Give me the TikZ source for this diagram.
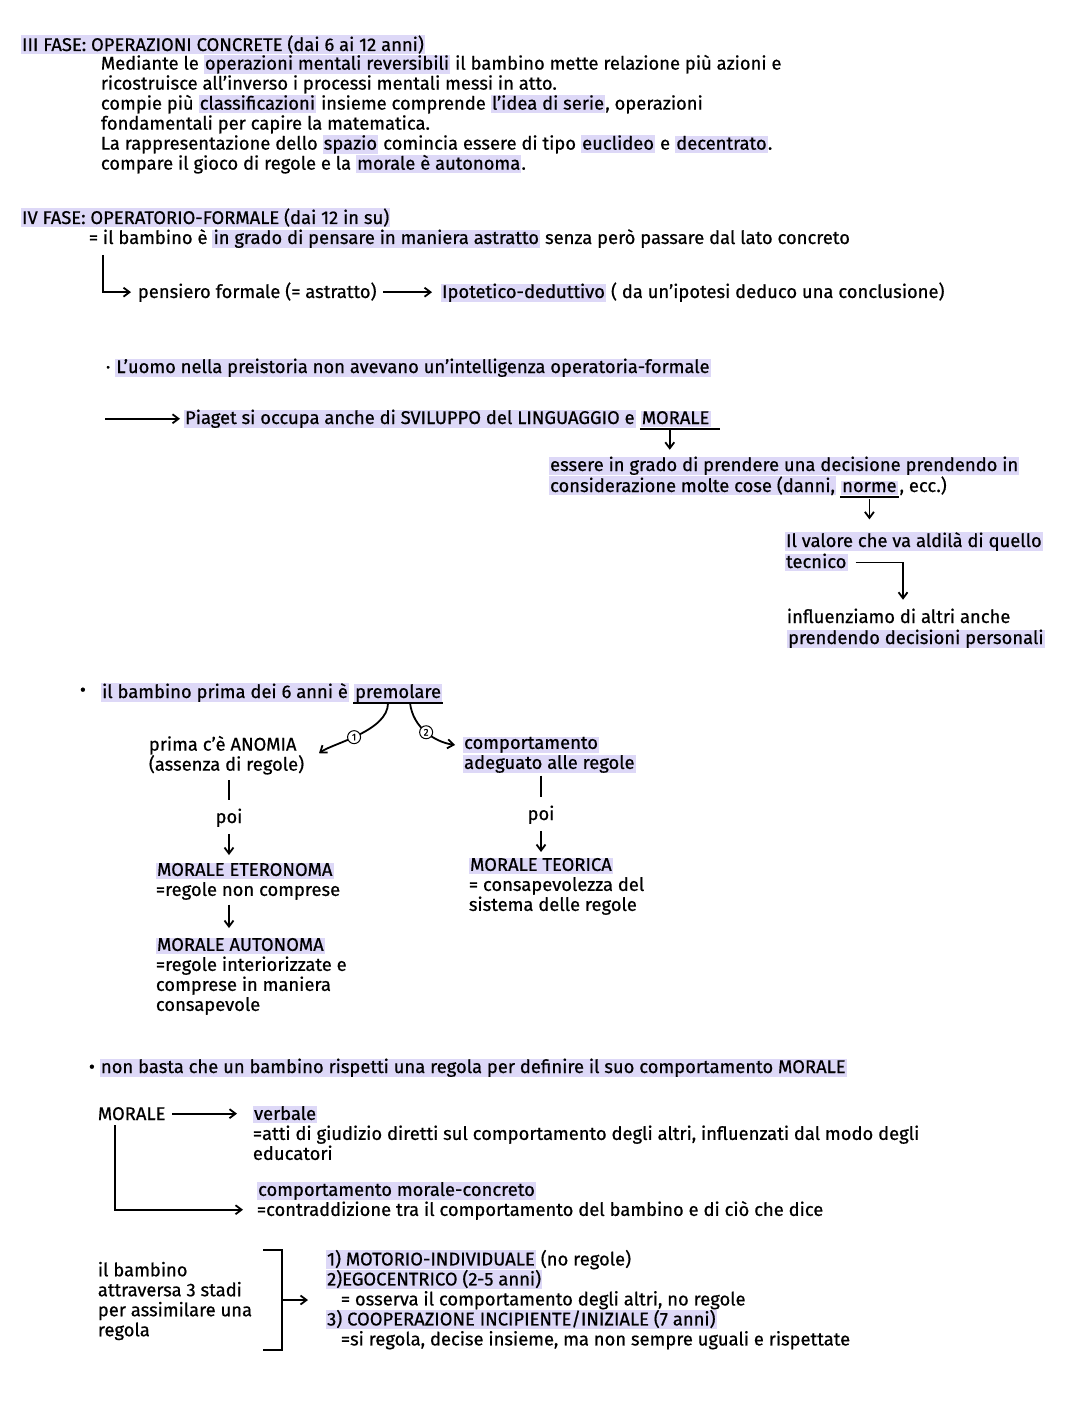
\documentclass[tikz,border=0pt]{standalone}
\usepackage{fontspec}
\setmainfont{Fira Sans}[FakeBold=0.6]
\usetikzlibrary{arrows.meta,calc,positioning}
\definecolor{hlcol}{HTML}{DDD8F7}
\newcommand\hl[1]{{\setlength{\fboxsep}{0pt}\colorbox{hlcol}{\kern0.6pt\rule[-1.6pt]{0pt}{7pt}#1\kern0.6pt}}}
\newcommand\notefont{\fontsize{9.2}{10}\selectfont}
\newcommand\topstrut{\rule{0pt}{7pt}}
\begin{document}
\begin{tikzpicture}[%
    x=0.5pt, y=-0.5pt, line width=0.9pt,
    >={Straight Barb[length=3pt,width=4.5pt]},
    txt/.style={anchor=base west, inner sep=0pt, font=\notefont},
    para/.style={anchor=north west, inner sep=0pt, align=left, font=\notefont},
    num/.style={circle, draw, fill=white, inner sep=0pt, minimum size=6.5pt,
      line width=0.5pt, font=\fontsize{4.8}{5}\selectfont}]
  \fill[white] (0,0) rectangle (1080,1417);
  \useasboundingbox (0,0) rectangle (1080,1417);

  % III fase
  \node[txt] (f3) at (20,51) {\hl{III FASE: OPERAZIONI CONCRETE (dai 6 ai 12 anni)}};
  \node[para] (f3txt) at (100,54) {\topstrut Mediante le \hl{operazioni mentali reversibili} il bambino mette relazione più azioni e\\
    ricostruisce all'inverso i processi mentali messi in atto.\\
    compie più \hl{classificazioni} insieme comprende \hl{l'idea di serie}, operazioni\\
    fondamentali per capire la matematica.\\
    La rappresentazione dello \hl{spazio} comincia essere di tipo \hl{euclideo} e \hl{decentrato}.\\
    compare il gioco di regole e la \hl{morale è autonoma}.};

  % IV fase
  \node[txt] (f4) at (20,224) {\hl{IV FASE: OPERATORIO-FORMALE (dai 12 in su)}};
  \node[txt] (f4eq) at (88,244) {= il bambino è \hl{in grado di pensare in maniera astratto} senza però passare dal lato concreto};
  \node[txt] (pens) at (137,298) {pensiero formale (= astratto)};
  \node[txt] (ipot) at (440,298) {\hl{Ipotetico-deduttivo} ( da un'ipotesi deduco una conclusione)};
  \draw[->, shorten >=3pt] ($(f4eq.base west)+(15,11)$) |- (pens.west);
  \draw[->, shorten <=3pt, shorten >=4pt] (pens.east) -- (ipot.west);

  % preistoria e Piaget
  \node[txt] (uomo) at (105,373) {· \hl{L'uomo nella preistoria non avevano un'intelligenza operatoria-formale}};
  \coordinate (pgo) at (105,424);
  \node[txt] (piag) at (183,424) {\hl{Piaget si occupa anche di SVILUPPO del LINGUAGGIO e}};
  \node[txt] (morP) at ($(piag.base east)+(3,0)$) {\hl{MORALE}};
  \draw ($(morP.base west)+(0,5)$) -- ($(morP.base east)+(8,5)$);
  \draw[->, shorten >=1.5pt] (piag.west -| pgo) -- (piag.west);

  \node[txt] (ess1) at (548,471) {\hl{essere in grado di prendere una decisione prendendo in}};
  \node[txt] (ess2) at (548,492) {\hl{considerazione molte cose (danni,}};
  \node[txt] (norme) at ($(ess2.base east)+(3,0)$) {\hl{norme}};
  \node[txt] (ess3) at (norme.base east) {, ecc.)};
  \draw ($(norme.base west)+(0,5)$) -- ($(norme.base east)+(0,5)$);
  \coordinate (mU) at ($(morP.base west)+(30,5)$);
  \draw[->, shorten >=3pt] (mU) -- (mU |- ess1.north);

  \node[txt] (val1) at (784,547) {\hl{Il valore che va aldilà di quello}};
  \node[txt] (val2) at (784,568) {\hl{tecnico}};
  \coordinate (nU) at ($(norme.base)+(0,5)$);
  \draw[->, shorten <=1pt, shorten >=6pt] (nU) -- (nU |- val1.north);

  \node[txt] (infl1) at (786,623) {influenziamo di altri anche};
  \node[txt] (infl2) at (786,644) {\hl{prendendo decisioni personali}};
  \coordinate (iT) at ($(infl1.north west)+(117,-8)$);
  \draw[->, shorten <=3.5pt] (val2.east) -| (iT);

  % premorale
  \node[txt] (bul) at (79,696) {•};
  \node[txt] (prima) at (100,698) {\hl{il bambino prima dei 6 anni è}};
  \node[txt] (prem) at ($(prima.base east)+(3,0)$) {\hl{premolare}};
  \draw ($(prem.base west)+(0,5)$) -- ($(prem.base east)+(0,5)$);

  \node[para] (anom) at (148,735) {\topstrut prima c'è ANOMIA\\(assenza di regole)};
  \node[para] (comp) at (462,734) {\topstrut\hl{comportamento}\\\hl{adeguato alle regole}};
  \coordinate (c1) at ($(prem.base west)+(35,5)$);
  \coordinate (c2) at ($(prem.base west)+(57,5)$);
  \draw[->] (c1) .. controls +(0,28) and +(14,-10) .. ($(anom.east)+(14,-2)$)
    node[num, pos=0.55] {1};
  \draw[->] (c2) .. controls +(3,25) and +(-20,-3) .. ($(comp.north west)+(-7,11)$)
    node[num, pos=0.5] {2};

  \node[txt, anchor=base] (poiL) at (229,823) {poi};
  \node[para] (eter) at (155,861) {\topstrut\hl{MORALE ETERONOMA}\\=regole non comprese};
  \node[para] (auto) at (155,936) {\topstrut\hl{MORALE AUTONOMA}\\=regole interiorizzate e\\comprese in maniera\\consapevole};
  \draw[shorten <=2.5pt, shorten >=4pt] (poiL |- anom.south) -- (poiL.north);
  \draw[->, shorten <=3pt, shorten >=3pt] (poiL.south) -- (poiL |- eter.north);
  \draw[->, shorten <=2pt, shorten >=4pt] (poiL |- eter.south) -- (poiL |- auto.north);

  \node[txt, anchor=base] (poiR) at (541,820) {poi};
  \node[para] (teor) at (468,856) {\topstrut\hl{MORALE TEORICA}\\= consapevolezza del\\sistema delle regole};
  \draw[shorten <=1pt, shorten >=4pt] (poiR |- comp.south) -- (poiR.north);
  \draw[->, shorten <=3pt, shorten >=2pt] (poiR.south) -- (poiR |- teor.north);

  % morale verbale / concreta
  \node[txt] (nb) at (88,1073) {• \hl{non basta che un bambino rispetti una regola per definire il suo comportamento MORALE}};
  \node[txt] (mor2) at (97,1120) {MORALE};
  \node[para] (verb) at (252,1105) {\topstrut\hl{verbale}\\=atti di giudizio diretti sul comportamento degli altri, influenzati dal modo degli\\educatori};
  \node[para] (concr) at (256,1181) {\topstrut\hl{comportamento morale-concreto}\\=contraddizione tra il comportamento del bambino e di ciò che dice};
  \draw[->, shorten <=3pt, shorten >=7.5pt] (mor2.east) -- (mor2.east -| verb.west);
  \draw[->, shorten >=6.5pt] ($(mor2.south west)+(18,4)$) |- ($(concr.south west)+(0,-11)$);

  % stadi
  \node[para] (stadi) at (97,1261) {\topstrut il bambino\\attraversa 3 stadi\\per assimilare una\\regola};
  \coordinate (bt) at (263,1250);
  \coordinate (bb) at (263,1350);
  \coordinate (bm) at (282,1300);
  \draw (bt) -- ++(19,0) |- (bb);
  \node[para] (lst) at (325,1249) {\topstrut\hl{1) MOTORIO-INDIVIDUALE} (no regole)\\
    \hl{2)EGOCENTRICO (2-5 anni)}\\
    \hspace*{7.5pt}= osserva il comportamento degli altri, no regole\\
    \hl{3) COOPERAZIONE INCIPIENTE/INIZIALE (7 anni)}\\
    \hspace*{7.5pt}=si regola, decise insieme, ma non sempre uguali e rispettate};
  \draw[->, shorten >=8.5pt] (bm) -- (bm -| lst.west);
\end{tikzpicture}
\end{document}
